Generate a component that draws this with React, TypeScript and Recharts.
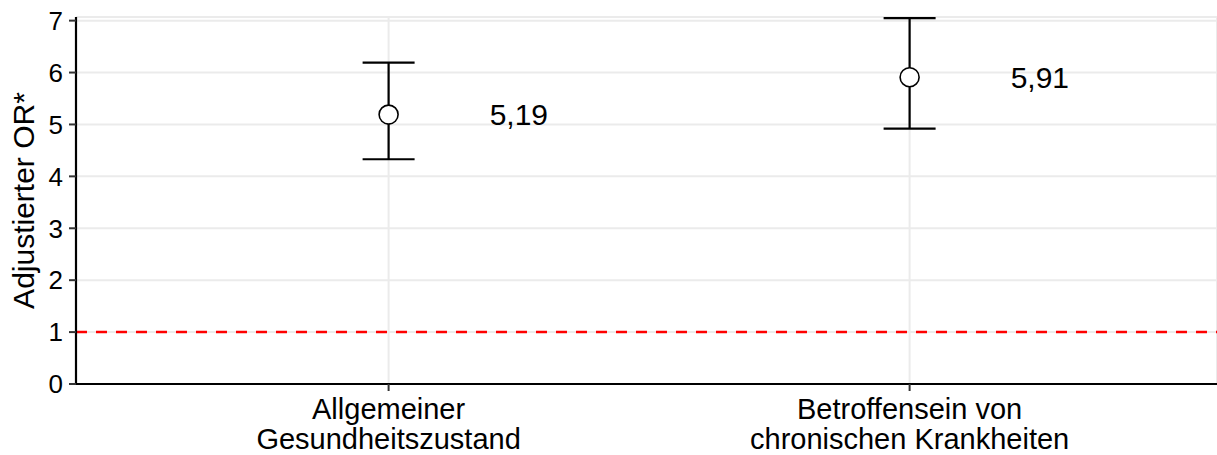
import { ScatterChart, Scatter, XAxis, YAxis, CartesianGrid, ErrorBar, ReferenceLine, LabelList } from "recharts";

const categories = [
  ["Allgemeiner", "Gesundheitszustand"],
  ["Betroffensein von", "chronischen Krankheiten"],
];
const oddsRatios = [5.19, 5.91];
const lowerCI = [4.33, 4.92];
const upperCI = [6.19, 7.05];
const valueLabels = ["5,19", "5,91"];
const yTicks = [0, 1, 2, 3, 4, 5, 6, 7];

const points = oddsRatios.map((v, i) => ({
  x: i + 1,
  or: v,
  err: [v - lowerCI[i], upperCI[i] - v],
}));

// labels sit a quarter category to the right of each estimate
const labelPoints = oddsRatios.map((v, i) => ({ x: i + 1.25, or: v, label: valueLabels[i] }));

const FONT = "'Liberation Sans', Arial, sans-serif";

function CategoryTick(props: any) {
  const { x, y, payload } = props;
  const lines = categories[payload.value - 1] || [];
  return (
    <text x={x} y={y} textAnchor="middle" fontSize={29} fill="#000" fontFamily={FONT}>
      {lines.map((l, i) => (
        <tspan key={i} x={x} dy={i === 0 ? 26 : 30}>
          {l}
        </tspan>
      ))}
    </text>
  );
}

function YTitle({ viewBox }: any) {
  const cx = viewBox.x + 34;
  const cy = viewBox.y + viewBox.height / 2;
  return (
    <text transform={`translate(${cx},${cy}) rotate(-90)`} textAnchor="middle" fontSize={30} fill="#000" fontFamily={FONT}>
      Adjustierter OR*
    </text>
  );
}

export default function App() {
  return (
    <div style={{ position: "absolute", left: 0, top: 0, background: "#fff" }}>
      <ScatterChart width={1217} height={455} margin={{ top: 17, right: 0, bottom: 0, left: 0 }}>
        <CartesianGrid stroke="#ebebeb" strokeWidth={2} />
        <XAxis
          dataKey="x"
          type="number"
          domain={[0.4, 2.59]}
          ticks={[1, 2]}
          allowDataOverflow
          height={71}
          tick={<CategoryTick />}
          tickSize={7}
          tickMargin={2}
          axisLine={{ stroke: "#000", strokeWidth: 2.2 }}
          tickLine={{ stroke: "#333", strokeWidth: 2 }}
        />
        <YAxis
          dataKey="or"
          type="number"
          domain={[0, 7.07]}
          ticks={yTicks}
          allowDataOverflow
          width={76}
          tickSize={7}
          tickMargin={6}
          tick={{ fontSize: 26, fill: "#000", fontFamily: FONT }}
          axisLine={{ stroke: "#000", strokeWidth: 2.2 }}
          tickLine={{ stroke: "#333", strokeWidth: 2 }}
          label={<YTitle />}
        />
        <ReferenceLine y={1} stroke="#ff0000" strokeWidth={2.5} strokeDasharray="11 9" />
        <Scatter
          data={points}
          dataKey="or"
          isAnimationActive={false}
          shape={(p: any) => <circle cx={p.cx} cy={p.cy} r={9.5} fill="#fff" stroke="#000" strokeWidth={1.6} />}
        >
          <ErrorBar dataKey="err" direction="y" width={26} stroke="#000" strokeWidth={2.2} />
        </Scatter>
        <Scatter data={labelPoints} dataKey="or" isAnimationActive={false} shape={() => <g />}>
          <LabelList dataKey="label" position="center" fontSize={30} fill="#000" fontFamily={FONT} />
        </Scatter>
      </ScatterChart>
    </div>
  );
}
